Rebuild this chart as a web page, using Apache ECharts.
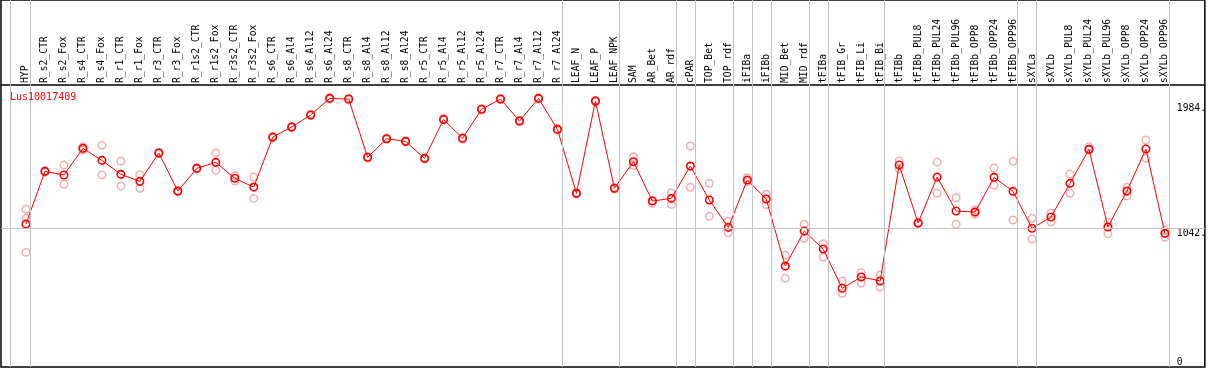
<!DOCTYPE html>
<html><head><meta charset="utf-8">
<script src="https://cdn.jsdelivr.net/npm/echarts@6/dist/echarts.min.js"></script>
<style>html,body{margin:0;padding:0;background:#fff}#c{width:1209px;height:370px}</style>
</head><body><div id="c"></div>
<script>
var geneName = 'Lus10017409';
var categories = ['HYP','R_s2_CTR','R_s2_Fox','R_s4_CTR','R_s4_Fox','R_r1_CTR','R_r1_Fox','R_r3_CTR','R_r3_Fox','R_r1s2_CTR','R_r1s2_Fox','R_r3s2_CTR','R_r3s2_Fox','R_s6_CTR','R_s6_Al4','R_s6_Al12','R_s6_Al24','R_s8_CTR','R_s8_Al4','R_s8_Al12','R_s8_Al24','R_r5_CTR','R_r5_Al4','R_r5_Al12','R_r5_Al24','R_r7_CTR','R_r7_Al4','R_r7_Al12','R_r7_Al24','LEAF_N','LEAF_P','LEAF_NPK','SAM','AR_Bet','AR_rdf','cPAR','TOP_Bet','TOP_rdf','iFIBa','iFIBb','MID_Bet','MID_rdf','tFIBa','tFIB_Gr','tFIB_Li','tFIB_Bi','tFIBb','tFIBb_PUL8','tFIBb_PUL24','tFIBb_PUL96','tFIBb_OPP8','tFIBb_OPP24','tFIBb_OPP96','sXYLa','sXYLb','sXYLb_PUL8','sXYLb_PUL24','sXYLb_PUL96','sXYLb_OPP8','sXYLb_OPP24','sXYLb_OPP96'];
var meanVals = [1075,1471,1444,1644,1554,1449,1396,1609,1323,1494,1539,1419,1353,1729,1805,1895,2020,2015,1577,1717,1697,1569,1862,1720,1938,2015,1850,2020,1787,1306,2000,1344,1544,1248,1268,1511,1256,1050,1406,1263,759,1023,887,592,677,647,1519,1083,1429,1173,1165,1426,1321,1043,1128,1381,1637,1053,1323,1639,1005];
var repA = [1186,1478,1519,1656,1667,1547,1446,1615,1328,1498,1609,1438,1429,1734,1810,1900,2025,2020,1582,1722,1702,1574,1867,1725,1943,2020,1855,2025,1792,1311,2005,1349,1581,1253,1311,1662,1381,1095,1423,1299,840,1073,927,647,709,692,1549,1088,1539,1273,1180,1496,1547,1118,1156,1451,1656,1090,1351,1707,1030];
var repB = [1118,1465,1374,1632,1444,1361,1344,1603,1318,1490,1479,1398,1268,1724,1800,1890,2015,2010,1572,1712,1692,1564,1857,1715,1933,2010,1845,2015,1782,1301,1995,1339,1515,1231,1223,1351,1133,1010,1395,1220,667,968,825,554,632,599,1489,1078,1306,1073,1148,1366,1105,962,1092,1306,1632,1002,1288,1569,975];
var repC = [862];
var yTickValues = [0, 1042, 1984];
var gridLineValues = [1042];
var groupSeparators = [-0.84, 0.24, 28.24, 31.24, 34.24, 35.24, 37.24, 38.24, 39.24, 41.24, 42.24, 45.24, 52.24, 53.24, 60.24];

var X_MIN = -1.3158, X_MAX = 62.105;
var FONT = 'DejaVu Sans Mono';

var meanData = meanVals.map(function(v,i){return [i,v];});
var repData = [];
[repA, repB, repC].forEach(function(arr){
  arr.forEach(function(v,i){ if(v!=null) repData.push([i,v]); });
});

var chart = echarts.init(document.getElementById('c'), null, {renderer:'canvas'});
chart.setOption({
  animation:false,
  backgroundColor:'#fff',
  title:{text:geneName,left:10,top:92,padding:0,textStyle:{color:'#ff0000',fontFamily:FONT,fontSize:10,fontWeight:'normal'}},
  grid:{left:1,right:3,top:0,bottom:3,show:true,borderColor:'#000',borderWidth:1.5,backgroundColor:'transparent'},
  xAxis:[
    {type:'value',min:X_MIN,max:X_MAX,show:false},
    {type:'value',min:X_MIN,max:X_MAX,position:'top',offset:-85,
      axisLine:{show:true,onZero:false,lineStyle:{color:'#000',width:1.5}},
      axisTick:{show:false},splitLine:{show:false},
      axisLabel:{show:true,rotate:-90,margin:2,color:'#000',fontFamily:FONT,fontSize:9.7,
        customValues:categories.map(function(_,i){return i;}),
        formatter:function(v){return categories[Math.round(v)]||'';}}}
  ],
  yAxis:{type:'value',min:0,max:2760,position:'right',offset:-28,
    axisLine:{show:false},axisTick:{show:false},splitLine:{show:false},
    axisLabel:{show:true,inside:false,margin:0,align:'left',verticalAlign:'top',verticalAlignMinLabel:'bottom',
      color:'#000',fontFamily:FONT,fontSize:9.7,customValues:yTickValues,
      formatter:function(v){return v===0?'0':(v+'.');}}},
  series:[
    {type:'scatter',xAxisIndex:0,data:[],silent:true,
      markLine:{silent:true,symbol:['none','none'],label:{show:false},
        lineStyle:{color:'#c4c4c4',width:1,type:'solid'},
        data:groupSeparators.map(function(p){return {xAxis:p};}).concat(gridLineValues.map(function(v){return {yAxis:v};}))}},
    {type:'scatter',xAxisIndex:0,data:repData,symbol:'circle',symbolSize:7.5,z:3,
      itemStyle:{color:'rgba(0,0,0,0)',borderColor:'#f19a9a',borderWidth:1.5}},
    {type:'line',xAxisIndex:0,data:meanData,symbol:'circle',symbolSize:7.5,z:4,
      lineStyle:{color:'#ff0000',width:1},
      itemStyle:{color:'rgba(0,0,0,0)',borderColor:'#ff0000',borderWidth:1.6}}
  ]
});
</script></body></html>
